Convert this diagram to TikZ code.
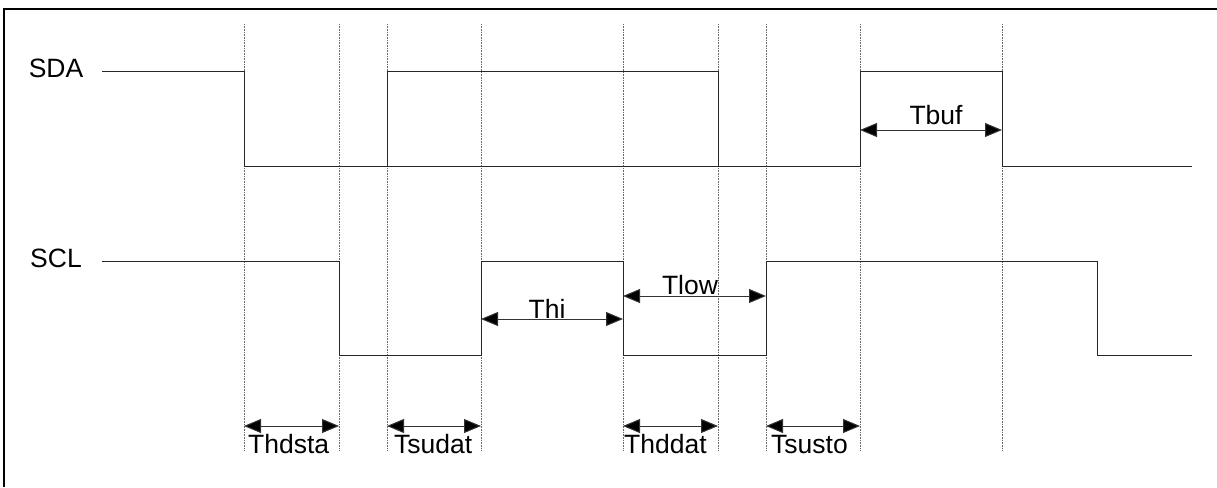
\documentclass[tikz,border=0pt]{standalone}
\usepackage{fontspec}
\setmainfont{Liberation Sans}
\usetikzlibrary{arrows.meta}
\begin{document}
\begin{tikzpicture}[x=1pt,y=-1pt,
  sig/.style={draw=black!85,line width=1pt},
  guide/.style={draw=black!60,line width=0.7pt,dash pattern=on 0.8pt off 0.8pt},
  dim/.style={draw=black!80,line width=1pt,{Triangle[length=17pt,width=14pt,fill=black]}-{Triangle[length=17pt,width=14pt,fill=black]}},
  lbl/.style={font=\fontsize{26.5}{30}\selectfont,inner sep=0pt},
  frame/.style={draw=black,line width=2pt}]
\useasboundingbox (0,0) rectangle (1217,487);
% frame
\draw[frame] (4,487) -- (4,9) -- (1217,9);
% guide lines
\foreach \n/\x in {a/244,b/339,c/387,d/481,e/623,f/718,g/766,h/860,i/1002}{
  \coordinate (\n top) at (\x,24);
  \coordinate (\n bot) at (\x,450);
  \draw[guide] (\n top) -- (\n bot);
}
% labels
\node[lbl] (sda) at (56,68) {SDA};
\node[lbl] (scl) at (56,258) {SCL};
% SDA
\coordinate (sdastart) at (102,71);
\coordinate (sdaend) at (1192,166);
\draw[sig] (sdastart) -- (244,71) -- (244,166) -- (860,166) -- (860,71) -- (1002,71) -- (1002,166) -- (sdaend);
\draw[sig] (387,166) -- (387,71) -- (718,71) -- (718,166);
% SCL
\coordinate (sclstart) at (102,261);
\coordinate (sclend) at (1192,355);
\draw[sig] (sclstart) -- (339,261) -- (339,355) -- (481,355) -- (481,261) -- (623,261) -- (623,355) -- (766,355) -- (766,261) -- (1097,261) -- (1097,355) -- (sclend);
% dimension arrows
\coordinate (buf1) at (860,130); \coordinate (buf2) at (1002,130);
\draw[dim] (buf1) -- (buf2);
\node[lbl,anchor=base] (tbuf) at (936,124) {Tbuf};
\coordinate (hi1) at (481,319); \coordinate (hi2) at (623,319);
\draw[dim] (hi1) -- (hi2);
\node[lbl,anchor=base] (thi) at (547,318) {Thi};
\coordinate (lo1) at (623,296); \coordinate (lo2) at (766,296);
\draw[dim] (lo1) -- (lo2);
\node[lbl,anchor=base] (tlow) at (690,294) {Tlow};
\coordinate (hs1) at (244,426); \coordinate (hs2) at (339,426);
\draw[dim] (hs1) -- (hs2);
\node[lbl,anchor=base west] (thdsta) at (248,453) {Thdsta};
\coordinate (sd1) at (387,426); \coordinate (sd2) at (481,426);
\draw[dim] (sd1) -- (sd2);
\node[lbl,anchor=base west] (tsudat) at (394,453) {Tsudat};
\coordinate (hd1) at (623,426); \coordinate (hd2) at (718,426);
\draw[dim] (hd1) -- (hd2);
\node[lbl,anchor=base west] (thddat) at (624,453) {Thddat};
\coordinate (ss1) at (766,426); \coordinate (ss2) at (860,426);
\draw[dim] (ss1) -- (ss2);
\node[lbl,anchor=base west] (tsusto) at (771,453) {Tsusto};
\end{tikzpicture}
\end{document}
